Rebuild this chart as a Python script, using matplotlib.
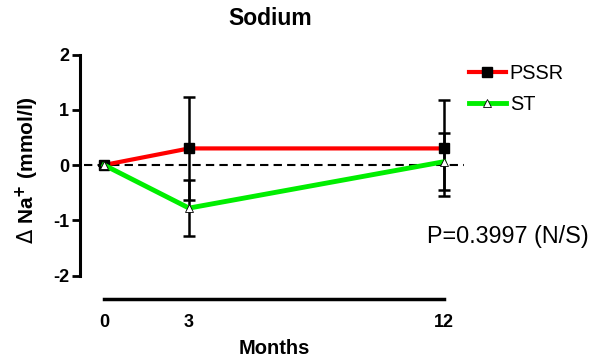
import matplotlib.pyplot as plt
import numpy as np

plt.rcParams['font.family'] = ['Liberation Sans', 'DejaVu Sans']
plt.rcParams['axes.unicode_minus'] = False

months = [0, 3, 12]
pssr_mean = [0.0, 0.30, 0.30]
pssr_sem = [0.0, 0.93, 0.87]
st_mean = [0.0, -0.78, 0.06]
st_sem = [0.0, 0.51, 0.52]
p_label = "P=0.3997 (N/S)"

fig = plt.figure(figsize=(5.89, 3.58), dpi=100)
W, H = 589, 358
# axes box in pixel units: left, top, right, bottom
l, t, r, b = 80, 50, 470, 299
ax = fig.add_axes([l / W, 1 - b / H, (r - l) / W, (b - t) / H])

px_x = (444 - 104) / 12.0
px_y = (276 - 55) / 4.0
ax.set_xlim(-(104 - l) / px_x, 12 + (r - 444) / px_x)
ax.set_ylim(-(b - 165) / px_y, (165 - t) / px_y)

ax.axhline(0, xmin=(84 - l) / (r - l), xmax=(464 - l) / (r - l),
           color='black', lw=1.5, ls=(0, (4, 2.5)), zorder=1)

ax.errorbar(months, pssr_mean, yerr=pssr_sem, color='black', ecolor='black',
            elinewidth=1.8, capsize=4, capthick=1.8, fmt='none', zorder=3)
ax.errorbar(months, st_mean, yerr=st_sem, color='black', ecolor='black',
            elinewidth=1.8, capsize=4, capthick=1.8, fmt='none', zorder=3)

ax.plot(months, pssr_mean, color='#ff0000', lw=3, marker='s', ms=6.5,
        mfc='black', mec='black', label='PSSR', zorder=4)
ax.plot(months, st_mean, color='#00ee00', lw=3.5, marker='^', ms=6,
        mfc='white', mec='black', mew=0.6, label='ST', zorder=4)

for side in ['top', 'right']:
    ax.spines[side].set_visible(False)
ax.spines['left'].set_bounds(-2, 2)
ax.spines['left'].set_linewidth(2.2)
ax.spines['bottom'].set_bounds(0, 12)
ax.spines['bottom'].set_linewidth(2.5)

ax.set_yticks([-2, -1, 0, 1, 2])
ax.set_xticks(months)
ax.tick_params(axis='y', length=6, width=2, pad=2, labelsize=13)
ax.tick_params(axis='x', length=0, pad=11, labelsize=13)
for lab in ax.get_xticklabels() + ax.get_yticklabels():
    lab.set_fontweight('bold')

ax.set_ylabel(r'$\Delta$ Na$^{\mathbf{+}}$ (mmol/l)', fontsize=15,
              fontweight='bold', va='center')
ax.yaxis.set_label_coords((27 - l) / (r - l), (b - 170) / (b - t))
ax.set_xlabel('Months', fontsize=14.5, fontweight='bold', va='center')
ax.xaxis.set_label_coords((274 - l) / (r - l), (b - 348) / (b - t))
fig.text(270 / W, 1 - 18.5 / H, 'Sodium', fontsize=16.5, fontweight='bold',
         ha='center', va='center')

ax.text(11.4, -1.3, p_label, fontsize=16.8, ha='left', va='center')

ax.legend(loc='upper left', bbox_to_anchor=((469 - l) / (r - l), (b - 64) / (b - t)),
          frameon=False, borderpad=0, borderaxespad=0, fontsize=14.3,
          handlelength=1.85, handletextpad=0.2, labelspacing=0.62)

fig.savefig('out.png', dpi=100)
